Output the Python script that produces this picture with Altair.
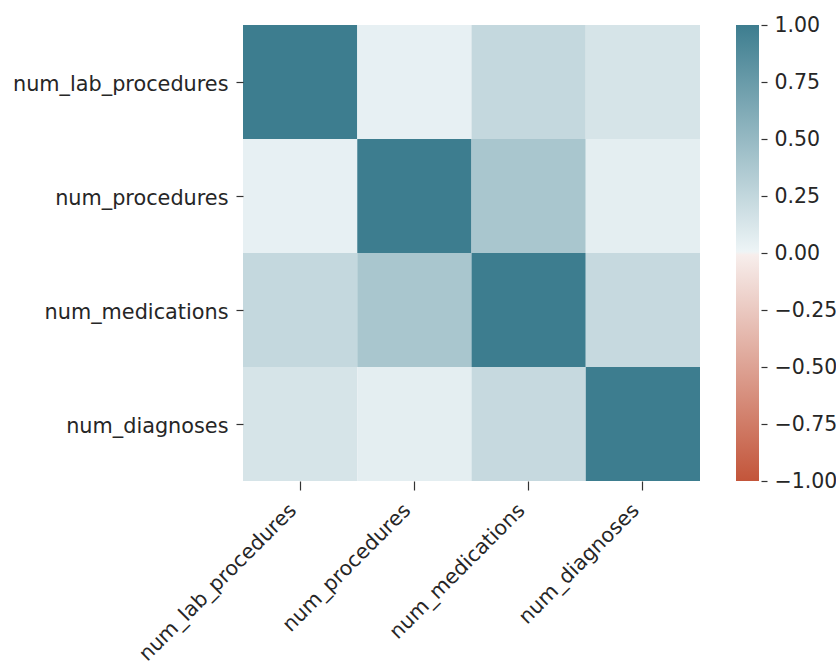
import altair as alt
import pandas as pd

# Correlation matrix of the numeric encounter features
features = ["num_lab_procedures", "num_procedures", "num_medications", "num_diagnoses"]
corr_lab_procedures = [1.00, 0.04, 0.24, 0.14]
corr_procedures = [0.04, 1.00, 0.39, 0.06]
corr_medications = [0.24, 0.39, 1.00, 0.23]
corr_diagnoses = [0.14, 0.06, 0.23, 1.00]
rows = [corr_lab_procedures, corr_procedures, corr_medications, corr_diagnoses]

colorbar_ticks = [-1.0, -0.75, -0.5, -0.25, 0.0, 0.25, 0.5, 0.75, 1.0]

records = []
for i, row_name in enumerate(features):
    for j, col_name in enumerate(features):
        records.append({"row": row_name, "col": col_name, "r": rows[i][j]})
df = pd.DataFrame(records)

# Diverging red -> light gray -> teal palette
RED, RED_TINT, MID, BLUE_TINT, BLUE = "#c3553a", "#f7eeec", "#f2f2f2", "#edf4f6", "#3d7d8f"
color_scale = alt.Scale(
    domain=[-1, -0.008, 0, 0.008, 1],
    range=[RED, RED_TINT, MID, BLUE_TINT, BLUE],
    interpolate="rgb",
)

FONT = "DejaVu Sans"
TEXT = "#262626"
TICK = "#333333"
W, H = 457, 456

heat = alt.Chart(df).mark_rect().encode(
    x=alt.X(
        "col:N",
        sort=features,
        title=None,
        scale=alt.Scale(paddingInner=0, paddingOuter=0),
        axis=alt.Axis(
            labelAngle=-45, labelAlign="right", labelBaseline="top",
            labelFont=FONT, labelFontSize=20.5, labelColor=TEXT, labelLimit=0,
            tickSize=9, tickColor=TICK, tickWidth=1.2,
            labelPadding=10, labelOffset=-14, domain=False,
        ),
    ),
    y=alt.Y(
        "row:N",
        sort=features,
        title=None,
        scale=alt.Scale(paddingInner=0, paddingOuter=0),
        axis=alt.Axis(
            labelFont=FONT, labelFontSize=20.8, labelColor=TEXT, labelLimit=0,
            tickSize=7, tickColor=TICK, tickWidth=1.2,
            labelPadding=8, labelOffset=3, domain=False,
        ),
    ),
    color=alt.Color("r:Q", scale=color_scale, legend=None),
)

# Colour bar drawn as a gradient rectangle on its own value axis
bar_df = pd.DataFrame({"lo": [colorbar_ticks[0]], "hi": [colorbar_ticks[-1]]})
colorbar = alt.Chart(bar_df).mark_rect(
    color=alt.LinearGradient(
        gradient="linear",
        stops=[
            alt.GradientStop(color=RED, offset=0),
            alt.GradientStop(color=RED_TINT, offset=0.496),
            alt.GradientStop(color=MID, offset=0.5),
            alt.GradientStop(color=BLUE_TINT, offset=0.504),
            alt.GradientStop(color=BLUE, offset=1),
        ],
        x1=0, x2=0, y1=1, y2=0,
    )
).encode(
    x=alt.value(W + 36),
    x2=alt.value(W + 59),
    y=alt.Y(
        "lo:Q",
        title=None,
        scale=alt.Scale(domain=[-1, 1], nice=False, zero=False),
        axis=alt.Axis(
            orient="right", offset=61, values=colorbar_ticks, format=".2f",
            labelFont=FONT, labelFontSize=20.5, labelColor=TEXT,
            tickSize=6, tickColor=TICK, tickWidth=1.2,
            labelPadding=7, domain=False, grid=False, labelFlush=False,
        ),
    ),
    y2="hi:Q",
)

chart = alt.layer(heat, colorbar).resolve_scale(y="independent").properties(
    width=W,
    height=H,
    autosize=alt.AutoSizeParams(type="none"),
    padding={"left": 243, "top": 25, "right": 836 - 243 - W, "bottom": 661 - 25 - H},
    background="white",
).configure_view(stroke=None)

chart.save("out.html", embed_options={"renderer": "svg", "actions": False})
